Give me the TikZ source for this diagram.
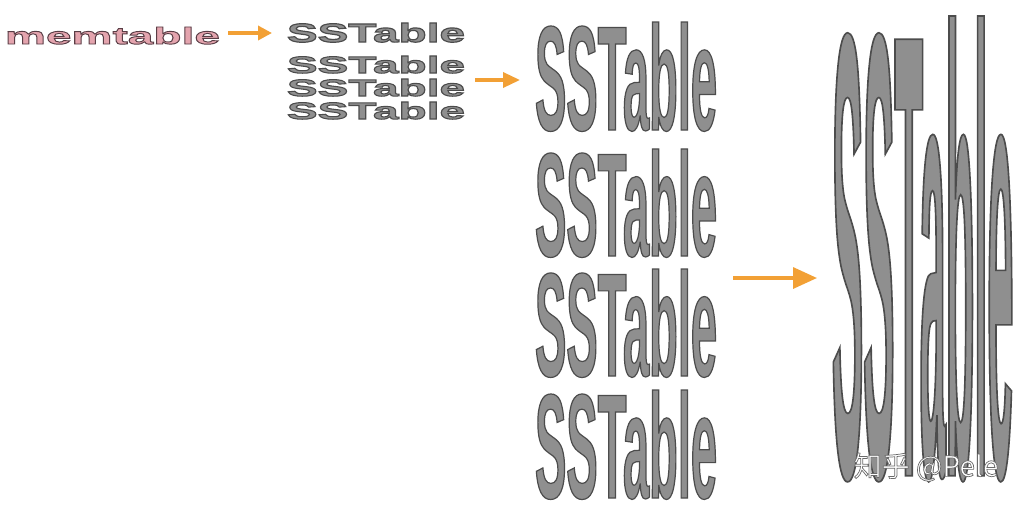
\documentclass[tikz,border=0pt]{standalone}
\usepackage{fontspec}
\usepackage{graphicx}
\setmainfont{Liberation Sans}
\newfontfamily\wideF[FakeStretch=1.8]{Liberation Sans}
\newfontfamily\smallF[FakeStretch=1.7]{Liberation Sans}
\newfontfamily\tallF[FakeStretch=0.312]{Liberation Sans}
\newfontfamily\bigF[FakeStretch=0.072]{Liberation Sans}
\newfontfamily\cjk{Noto Sans CJK SC}
\usetikzlibrary{arrows.meta}
\definecolor{sgray}{HTML}{8F8F8F}
\definecolor{mpink}{HTML}{E4A4AE}
\definecolor{arr}{HTML}{F2A035}
% #1 fill colour, #2 stroke rgb numbers, #3 line width (bp), #4 width, #5 height, #6 font, #7 text
\newcommand{\wordart}[7]{\resizebox{#4}{#5}{\textcolor{#1}{\special{pdf:literal direct #2 RG #3 w 2 Tr}#6\bfseries #7\special{pdf:literal direct 0 Tr}}}}
\begin{document}
\begin{tikzpicture}[x=1pt,y=-1pt,
  txt/.style={inner sep=0pt,outer sep=0pt,anchor=north west},
  flow/.style={draw=arr,line width=3.4pt},
  headS/.style={-{Triangle[length=14pt,width=14pt]}},
  headM/.style={-{Triangle[length=17pt,width=15pt]}},
  headL/.style={-{Triangle[length=24pt,width=21pt]}}]
\useasboundingbox (0,0) rectangle (1036,520);
\fill[white] (0,0) rectangle (1036,520);
% memtable
\node[txt] (mem) at (5,27) {\wordart{mpink}{0.35 0.24 0.27}{0.4}{215pt}{17pt}{\wideF}{memtable}};
% small SSTables
\node[txt] (s1) at (287,23) {\wordart{sgray}{0.3 0.3 0.3}{0.45}{178pt}{19pt}{\smallF}{SSTable}};
\node[txt] (s2) at (287,56) {\wordart{sgray}{0.3 0.3 0.3}{0.45}{178pt}{17pt}{\smallF}{SSTable}};
\node[txt] (s3) at (287,79) {\wordart{sgray}{0.3 0.3 0.3}{0.45}{178pt}{17pt}{\smallF}{SSTable}};
\node[txt] (s4) at (287,102) {\wordart{sgray}{0.3 0.3 0.3}{0.45}{178pt}{17pt}{\smallF}{SSTable}};
% tall SSTables
\node[txt] (t1) at (535,22) {\wordart{sgray}{0.3 0.3 0.3}{0.08}{182pt}{108pt}{\tallF}{SSTable}};
\node[txt] (t2) at (535,149) {\wordart{sgray}{0.3 0.3 0.3}{0.08}{182pt}{107pt}{\tallF}{SSTable}};
\node[txt] (t3) at (535,269) {\wordart{sgray}{0.3 0.3 0.3}{0.08}{182pt}{107pt}{\tallF}{SSTable}};
\node[txt] (t4) at (535,390) {\wordart{sgray}{0.3 0.3 0.3}{0.08}{182pt}{108pt}{\tallF}{SSTable}};
% big SSTable
\node[txt] (big) at (832,16) {\wordart{sgray}{0.3 0.3 0.3}{0.025}{181pt}{458pt}{\bigF}{SSTable}};
% arrow end points
\coordinate (a1s) at ([xshift=8pt,yshift=-6pt]mem.north east);
\coordinate (a1e) at ([xshift=-15pt]s1.west |- a1s);
\coordinate (a2s) at ([xshift=10pt,yshift=-1pt]s3.north east);
\coordinate (a2e) at ([xshift=-15pt]t1.west |- a2s);
\coordinate (a3s) at ([xshift=16pt,yshift=-9pt]t3.north east);
\coordinate (a3e) at ([xshift=-15pt]big.west |- a3s);
\draw[flow,headS] (a1s) -- (a1e);
\draw[flow,headM] (a2s) -- (a2e);
\draw[flow,headL] (a3s) -- (a3e);
% watermark
\node (wm) at (926,467) {\cjk\fontsize{28}{28}\selectfont\textcolor{white}{\special{pdf:literal direct 0.42 0.42 0.42 RG 0.7 w 2 Tr}知乎 @Pele\special{pdf:literal direct 0 Tr}}};
\end{tikzpicture}
\end{document}
